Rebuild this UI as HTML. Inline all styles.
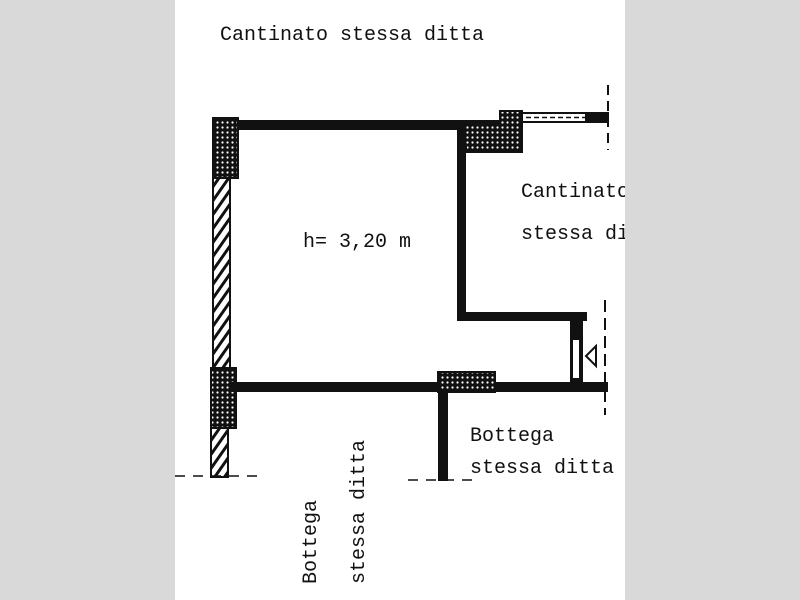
<!DOCTYPE html>
<html><head><meta charset="utf-8"><style>
html,body{margin:0;padding:0;background:#d9d9d9;}
svg{display:block}
text{font-family:"Liberation Mono",monospace;font-size:20px;fill:#111;}
</style></head><body>
<svg width="800" height="600" xmlns="http://www.w3.org/2000/svg">
<defs>
<pattern id="dots" width="5" height="5" patternUnits="userSpaceOnUse">
<rect width="5" height="5" fill="#111"/><circle cx="2.5" cy="2.5" r="1.1" fill="#fff"/>
</pattern>
<pattern id="hatch" width="8" height="8" patternUnits="userSpaceOnUse" patternTransform="rotate(35)">
<rect width="8" height="8" fill="#fff"/><rect width="3" height="8" fill="#111"/>
</pattern>
</defs>
<rect x="0" y="0" width="800" height="600" fill="#d9d9d9"/>
<rect x="175" y="0" width="450" height="600" fill="#fff"/>

<text x="220" y="40">Cantinato stessa ditta</text>
<text x="521" y="197">Cantinato</text>
<text x="521" y="239">stessa di</text>
<rect x="625" y="170" width="20" height="80" fill="#d9d9d9"/>
<text x="303" y="247">h= 3,20 m</text>
<text x="470" y="441">Bottega</text>
<text x="470" y="473">stessa ditta</text>
<text transform="translate(316,584) rotate(-90)">Bottega</text>
<text transform="translate(364,584) rotate(-90)">stessa ditta</text>

<rect x="214" y="120" width="290" height="10" fill="#111"/>
<rect x="213" y="118" width="25" height="60" fill="url(#dots)" stroke="#111" stroke-width="2"/>
<rect x="213" y="178" width="17" height="192" fill="url(#hatch)" stroke="#111" stroke-width="2"/>
<rect x="211" y="368" width="25" height="60" fill="url(#dots)" stroke="#111" stroke-width="2"/>
<rect x="211" y="428" width="17" height="49" fill="url(#hatch)" stroke="#111" stroke-width="2"/>
<path d="M459 123 H500 V111 H522 V152 H466 V145 H459 Z" fill="url(#dots)" stroke="#111" stroke-width="2"/>
<rect x="522" y="113" width="86" height="9" fill="#fff" stroke="#111" stroke-width="2"/>
<line x1="526" y1="117.5" x2="585" y2="117.5" stroke="#111" stroke-width="1.5" stroke-dasharray="5,3"/>
<rect x="585" y="112" width="23" height="11" fill="#111"/>
<rect x="457" y="125" width="9" height="195" fill="#111"/>
<rect x="457" y="312" width="130" height="9" fill="#111"/>
<rect x="570" y="314" width="13" height="74" fill="#111"/>
<rect x="573" y="340" width="6" height="38" fill="#fff"/>
<path d="M596 346 L586 356 L596 366 Z" fill="none" stroke="#111" stroke-width="2"/>
<rect x="230" y="382" width="378" height="10" fill="#111"/>
<rect x="438" y="372" width="57" height="20" fill="url(#dots)" stroke="#111" stroke-width="2"/>
<rect x="438" y="390" width="10" height="91" fill="#111"/>
<line x1="608" y1="85" x2="608" y2="150" stroke="#111" stroke-width="2" stroke-dasharray="10,6"/>
<line x1="605" y1="300" x2="605" y2="415" stroke="#111" stroke-width="2" stroke-dasharray="12,6"/>
<line x1="175" y1="476" x2="258" y2="476" stroke="#111" stroke-width="1.5" stroke-dasharray="10,8"/>
<line x1="408" y1="480" x2="475" y2="480" stroke="#111" stroke-width="1.5" stroke-dasharray="10,8"/>
</svg>
</body></html>
